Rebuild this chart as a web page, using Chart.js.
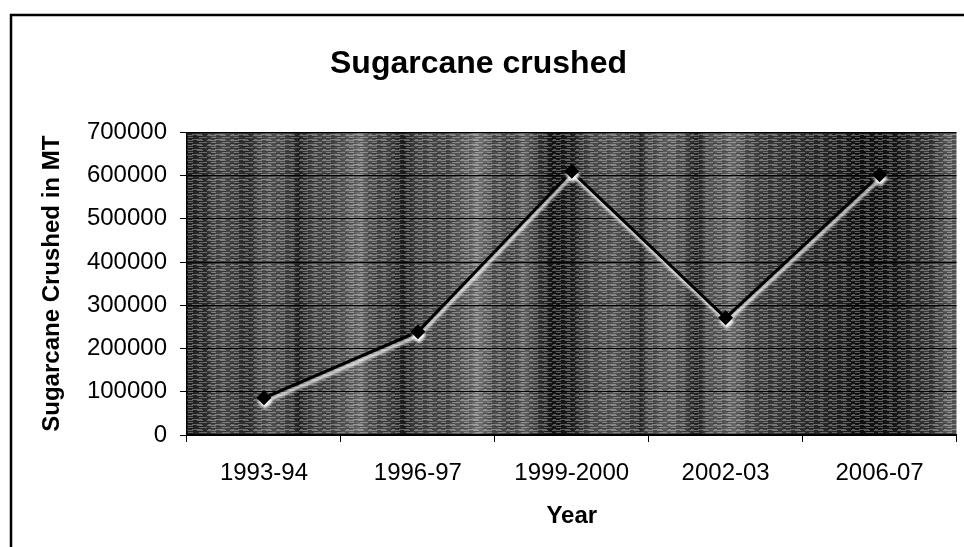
<!DOCTYPE html>
<html><head><meta charset="utf-8">
<script src="https://cdn.jsdelivr.net/npm/chart.js@4.4.0/dist/chart.umd.min.js"></script>
<style>html,body{margin:0;padding:0;background:#fff;}</style>
</head><body>
<canvas id="c" width="964" height="547"></canvas>
<script>
const years = ['1993-94', '1996-97', '1999-2000', '2002-03', '2006-07'];
const crushed = [86000, 239000, 610000, 271000, 602000];
const yTickLabels = ['0', '100000', '200000', '300000', '400000', '500000', '600000', '700000'];
const chartTitle = 'Sugarcane crushed';
const xTitle = 'Year';
const yTitle = 'Sugarcane Crushed in MT';

const FONT = 'Arial, "Liberation Sans", sans-serif';

const bgPlugin = {
  id: 'bg',
  beforeDraw(chart) {
    const {ctx, chartArea: a} = chart;
    ctx.save();
    ctx.fillStyle = '#fff';
    ctx.fillRect(0, 0, chart.width, chart.height);
    const g = ctx.createLinearGradient(a.left, 0, a.right, 0);
    const w = a.right - a.left;
    const bands = [
      [187,'#222'],[205,'#2a2a2a'],[215,'#4a4a4a'],[235,'#404040'],[247,'#262626'],[262,'#525252'],[285,'#4a4a4a'],
      [298,'#202020'],[310,'#424242'],[340,'#4c4c4c'],[358,'#707070'],[370,'#505050'],[392,'#3e3e3e'],[404,'#1a1a1a'],
      [416,'#444'],[450,'#4a4a4a'],[478,'#747474'],[495,'#505050'],[510,'#464646'],[525,'#606060'],[540,'#343434'],
      [552,'#121212'],[572,'#1c1c1c'],[585,'#424242'],[610,'#565656'],[635,'#404040'],[640,'#222'],[648,'#4e4e4e'],
      [675,'#606060'],[697,'#222'],[710,'#525252'],[735,'#666'],[755,'#404040'],[800,'#303030'],[840,'#222'],
      [860,'#101010'],[895,'#161616'],[915,'#2c2c2c'],[935,'#3a3a3a'],[950,'#606060'],[957,'#565656']
    ];
    bands.forEach(([x, c]) => g.addColorStop(Math.min(1, Math.max(0, (x - a.left) / w)), c));
    ctx.fillStyle = g;
    ctx.fillRect(a.left, a.top, w, a.bottom - a.top);
    // fixed streak texture (horizontal scan streaks)
    const p = document.createElement('canvas');
    p.width = 23; p.height = 5;
    const pc = p.getContext('2d');
    pc.fillStyle = 'rgba(255,255,255,0.3)';
    pc.fillRect(0, 0, 9, 1); pc.fillRect(13, 0, 6, 1);
    pc.fillRect(4, 2, 5, 1); pc.fillRect(15, 2, 8, 1);
    pc.fillRect(1, 4, 3, 1); pc.fillRect(8, 4, 10, 1);
    pc.fillStyle = 'rgba(0,0,0,0.22)';
    pc.fillRect(9, 1, 10, 1); pc.fillRect(0, 3, 12, 1);
    ctx.fillStyle = ctx.createPattern(p, 'repeat');
    ctx.fillRect(a.left, a.top, w, a.bottom - a.top);
    // outer frame
    ctx.strokeStyle = '#000';
    ctx.lineWidth = 2.5;
    ctx.beginPath();
    ctx.moveTo(11, 547);
    ctx.lineTo(11, 15);
    ctx.lineTo(964, 15);
    ctx.stroke();
    ctx.restore();
  }
};

const shadowPlugin = {
  id: 'lineShadow',
  beforeDatasetsDraw(chart) {
    const ctx = chart.ctx;
    ctx.save();
    ctx.shadowColor = 'rgba(255,255,255,0.95)';
    ctx.shadowOffsetX = 1;
    ctx.shadowOffsetY = 4;
    ctx.shadowBlur = 3;
  },
  afterDatasetsDraw(chart) {
    chart.ctx.restore();
  }
};

new Chart(document.getElementById('c'), {
  type: 'line',
  data: {
    labels: years,
    datasets: [{
      data: crushed,
      borderColor: '#000',
      borderWidth: 3,
      pointStyle: 'rectRot',
      pointRadius: 7.5,
      pointBorderWidth: 0,
      pointBackgroundColor: '#000',
      pointBorderColor: '#000',
      tension: 0,
      fill: false
    }]
  },
  options: {
    responsive: false,
    animation: false,
    devicePixelRatio: 1,
    layout: {padding: {left: 0, right: 7, top: 0, bottom: 0}},
    plugins: {
      legend: {display: false},
      tooltip: {enabled: false},
      title: {
        display: true,
        text: chartTitle,
        color: '#000',
        font: {family: FONT, size: 32, weight: 'bold'},
        padding: {top: 45, bottom: 49}
      }
    },
    scales: {
      x: {
        offset: true,
        grid: {offset: true, drawOnChartArea: false, color: '#000', tickLength: 7, lineWidth: 1},
        border: {color: '#000', width: 1.5},
        ticks: {color: '#000', font: {family: FONT, size: 24}, padding: 17, maxRotation: 0},
        title: {display: true, text: xTitle, color: '#000', font: {family: FONT, size: 24, weight: 'bold'}, padding: {top: 0, bottom: 16}},
        afterFit(s) { s.height = 112; }
      },
      y: {
        min: 0,
        max: 700000,
        grid: {color: '#000', lineWidth: 1, tickLength: 7},
        border: {color: '#000', width: 1.5},
        ticks: {
          stepSize: 100000,
          color: '#000',
          font: {family: FONT, size: 24},
          padding: 13,
          callback: (v) => yTickLabels[Math.round(v / 100000)]
        },
        title: {display: true, text: yTitle, color: '#000', font: {family: FONT, size: 24, weight: 'bold'}, padding: {top: 38, bottom: 0}},
        afterFit(s) { s.width = 187; }
      }
    }
  },
  plugins: [bgPlugin, shadowPlugin]
});
</script>
</body></html>
